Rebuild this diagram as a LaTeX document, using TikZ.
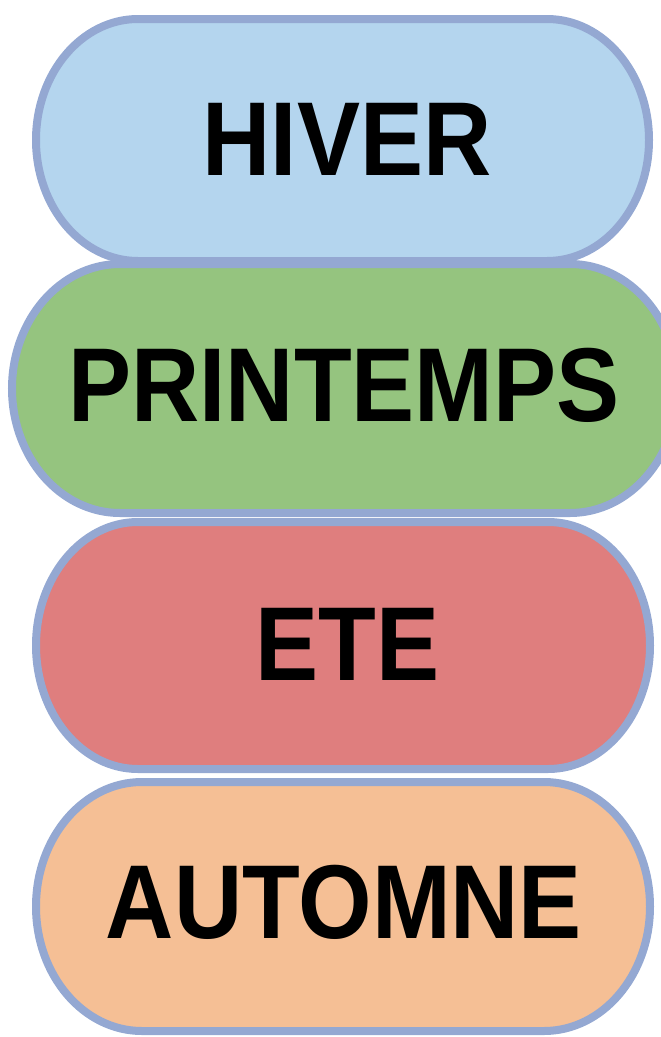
\documentclass[tikz,border=0pt]{standalone}
\usepackage{fontspec}
\setmainfont{Liberation Sans}
\definecolor{bordc}{RGB}{148,168,210}
\definecolor{hiverc}{RGB}{180,213,238}
\definecolor{printc}{RGB}{149,196,127}
\definecolor{etec}{RGB}{223,126,126}
\definecolor{autoc}{RGB}{245,191,149}
\tikzset{
  season/.style={draw=bordc, line width=8pt},
  seasonlabel/.style={inner sep=0pt, anchor=center, font=\fontsize{105}{110}\selectfont\bfseries}
}
\newcommand{\nx}[1]{\scalebox{0.9}[1]{#1}}
% \stadium{fill}{x0}{x1}{ytop}{ybottom}{rx}{ry}
\newcommand{\stadium}[7]{%
  \path[season, fill=#1] ({#2+#6},#4) -- ({#3-#6},#4)
    arc[start angle=90, end angle=-90, x radius=#6pt, y radius=#7pt]
    -- ({#2+#6},#5)
    arc[start angle=270, end angle=90, x radius=#6pt, y radius=#7pt]
    -- cycle;}
\begin{document}
\begin{tikzpicture}[x=1pt,y=1pt]
\useasboundingbox (0,-1037) rectangle (661,0);
\stadium{hiverc}{36}{649}{-19}{-261}{102}{121}
\stadium{printc}{12}{678}{-264}{-513}{108}{124.5}
\stadium{etec}{36}{650}{-522}{-769}{102}{123.5}
\stadium{autoc}{36}{650}{-782}{-1031}{106}{124.5}
\node[seasonlabel] (hiver) at (347,-139) {\nx{HIVER}};
\node[seasonlabel] (printemps) at (344,-385) {\nx{PRINTEMPS}};
\node[seasonlabel] (ete) at (347.5,-644) {\nx{ETE}};
\node[seasonlabel] (automne) at (344,-902) {\nx{AUTOMNE}};
\end{tikzpicture}
\end{document}
